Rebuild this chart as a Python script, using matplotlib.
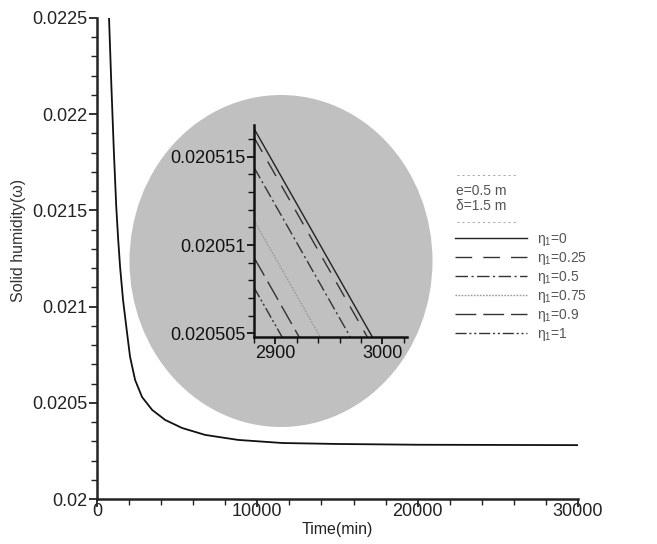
import numpy as np
import matplotlib
matplotlib.use('Agg')
import matplotlib.pyplot as plt
from matplotlib.patches import Ellipse
from matplotlib.ticker import MultipleLocator

plt.rcParams['font.family'] = ['Liberation Sans', 'DejaVu Sans']
plt.rcParams['mathtext.fontset'] = 'custom'
plt.rcParams['mathtext.rm'] = 'Liberation Sans'
plt.rcParams['mathtext.it'] = 'Liberation Sans'

# main curve (all cases overlap at this scale)
time_min = [750, 900, 1050, 1200, 1320, 1440, 1625, 1875, 2060, 2375, 2810, 3440,
            4250, 5310, 6750, 8810, 11560, 15000, 20000, 30000]
humidity = [0.0225, 0.02214, 0.02181, 0.02152, 0.02135, 0.021206, 0.021034,
            0.020863, 0.02074, 0.020619, 0.02053, 0.020463, 0.020411, 0.020369,
            0.020333, 0.020307, 0.020291, 0.020286, 0.020282, 0.02028]

# zoomed detail near t = 2900..3000 min
inset_time = [2880, 3000]
eta_labels = ['0', '0.25', '0.5', '0.75', '0.9', '1']
inset_eta0 = [0.0205166, 0.0205038]
inset_eta025 = [0.0205161, 0.0205033]
inset_eta05 = [0.0205144, 0.0205016]
inset_eta075 = [0.0205114, 0.0204986]
inset_eta09 = [0.0205093, 0.0204965]
inset_eta1 = [0.0205076, 0.0204948]
inset_series = [inset_eta0, inset_eta025, inset_eta05, inset_eta075, inset_eta09, inset_eta1]

main_yticks = [0.02, 0.0205, 0.021, 0.0215, 0.022, 0.0225]
inset_yticks = [0.020505, 0.02051, 0.020515]

styles = [
    dict(color='#222222', linestyle='-'),
    dict(color='#333333', dashes=(12, 8)),
    dict(color='#333333', dashes=(9, 2.5, 1.5, 2.5)),
    dict(color='#999999', dashes=(1.2, 1.0)),
    dict(color='#333333', dashes=(15, 5)),
    dict(color='#333333', dashes=(8, 2, 1.5, 2, 1.5, 2)),
]

fig = plt.figure(figsize=(6.57, 5.44), dpi=100)
ax = fig.add_axes([97/657, 1-499/544, 481/657, 481/544])

# grey ellipse behind the zoom window
ell = Ellipse((281/657, 1-261/544), 303/657, 332/544, transform=fig.transFigure,
              facecolor='#c0c0c0', edgecolor='none', zorder=0.5)
ax.add_patch(ell)

ax.plot(time_min, humidity, color='#111111', lw=1.3, zorder=3)
ax.set_xlim(0, 30000)
ax.set_ylim(0.02, 0.0225)
ax.set_xticks([0, 10000, 20000, 30000])
ax.set_xticklabels(['0', '10000', '20000', '30000'])
ax.xaxis.set_minor_locator(MultipleLocator(2000))
ax.set_yticks(main_yticks)
ax.set_yticklabels(['{:g}'.format(v) for v in main_yticks])
ax.yaxis.set_minor_locator(MultipleLocator(0.0001))
for s in ['top', 'right']:
    ax.spines[s].set_visible(False)
for s in ['left', 'bottom']:
    ax.spines[s].set_linewidth(1.8)
    ax.spines[s].set_color('#222222')
ax.tick_params(axis='both', which='major', direction='out', length=6, width=1.3,
               labelsize=13, colors='#222222', pad=1)
ax.tick_params(axis='x', which='major', pad=-3)
ax.tick_params(axis='both', which='minor', direction='out', length=4, width=1.0,
               colors='#222222')
ax.set_xlabel('Time(min)', fontsize=11.5, labelpad=1, color='#222222')
ax.set_ylabel('Solid humidity(\u03c9)', fontsize=11.5, color='#333333')
ax.yaxis.set_label_coords(-0.147, 0.538)

# inset
ins = fig.add_axes([254/657, 1-337/544, 153/657, 212/544])
ins.patch.set_visible(False)
handles = []
for vals, st, lab in zip(inset_series, styles, eta_labels):
    ln, = ins.plot(inset_time, vals, lw=1.0, label=r'$\eta_1$=' + lab, **st)
    handles.append(ln)
ins.set_xlim(2880, 3023)
ins.set_ylim(0.0205048, 0.0205168)
ins.set_xticks([2900, 3000])
ins.set_xticklabels(['2900', '3000'])
ins.xaxis.set_minor_locator(MultipleLocator(20))
ins.set_yticks(inset_yticks)
ins.set_yticklabels(['{:g}'.format(v) for v in inset_yticks])
ins.yaxis.set_minor_locator(MultipleLocator(0.000001))
for s in ['top', 'right']:
    ins.spines[s].set_visible(False)
for s in ['left', 'bottom']:
    ins.spines[s].set_linewidth(1.8)
    ins.spines[s].set_color('#111111')
ins.tick_params(axis='both', which='major', direction='out', length=5, width=1.3,
                labelsize=13, colors='#111111', pad=1)
ins.tick_params(axis='both', which='minor', direction='out', length=4, width=1.0,
                colors='#111111')

# legend header
dash_txt = '- - - - - - - - - - - -'
fig.text(457/657, 1-175/544, dash_txt, fontsize=6, color='#666666', va='center')
fig.text(456/657, 1-191/544, 'e=0.5 m', fontsize=10, color='#555555', va='center')
fig.text(456/657, 1-206/544, '\u03b4=1.5 m', fontsize=10, color='#555555', va='center')
fig.text(457/657, 1-222/544, dash_txt, fontsize=6, color='#666666', va='center')

leg = fig.legend(handles=handles, loc='upper left', bbox_to_anchor=(455/657, 1-231/544),
                 frameon=False, fontsize=10, handlelength=5.2, handletextpad=0.7,
                 labelspacing=0.14, borderpad=0, borderaxespad=0)
for t in leg.get_texts():
    t.set_color('#555555')

fig.savefig('out.png', dpi=100)
